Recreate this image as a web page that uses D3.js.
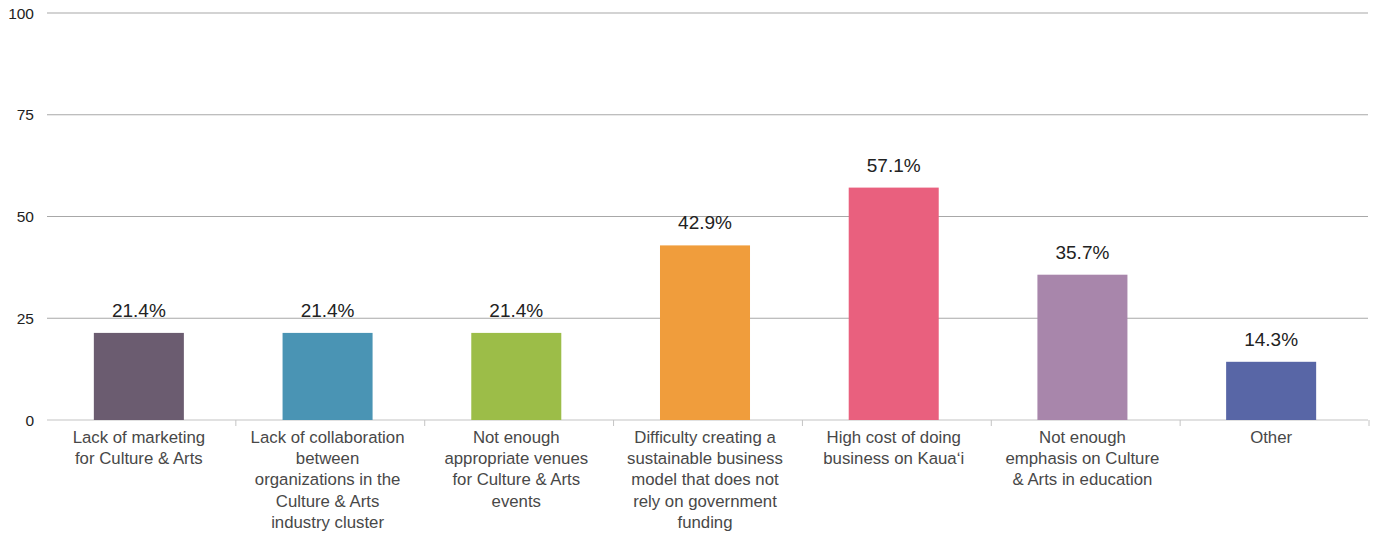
<!DOCTYPE html>
<html><head><meta charset="utf-8">
<script src="https://cdn.jsdelivr.net/npm/d3@7"></script>
<style>body{margin:0;background:#fff}svg{display:block}text{font-family:"Liberation Sans",Arial,sans-serif}</style>
</head><body><svg id="c" width="1377" height="535"></svg>
<script>
const categories = [
  ["Lack of marketing","for Culture & Arts"],
  ["Lack of collaboration","between","organizations in the","Culture & Arts","industry cluster"],
  ["Not enough","appropriate venues","for Culture & Arts","events"],
  ["Difficulty creating a","sustainable business","model that does not","rely on government","funding"],
  ["High cost of doing","business on Kauaʻi"],
  ["Not enough","emphasis on Culture","& Arts in education"],
  ["Other"]
];
const values = [21.4, 21.4, 21.4, 42.9, 57.1, 35.7, 14.3];
const valueLabels = ["21.4%","21.4%","21.4%","42.9%","57.1%","35.7%","14.3%"];
const colors = ["#6b5c70","#4a94b4","#9cbd48","#f09d3c","#e9607e","#a886ab","#5866a6"];
const yTicks = [0,25,50,75,100];

const svg = d3.select("#c");
const x = d3.scaleBand().domain(d3.range(categories.length)).range([44.5,1365.5]).paddingInner(0.523).paddingOuter(0.2615);
const xt = d3.scaleBand().domain(d3.range(categories.length)).range([47,1369]);
const y = d3.scaleLinear().domain([0,100]).range([420,13]);

// gridlines
svg.append("g").selectAll("line").data(yTicks).join("line")
  .attr("x1",47).attr("x2",1368).attr("y1",d=>y(d)).attr("y2",d=>y(d))
  .attr("stroke",d=>d===0?"#c4c4c4":"#a8a8a8").attr("stroke-width",1.2);
// y tick labels
svg.append("g").selectAll("text").data(yTicks).join("text")
  .attr("x",34).attr("y",d=>y(d)+5.5).attr("text-anchor","end")
  .attr("font-size",15.5).attr("fill","#222").text(d=>d);
// x ticks
svg.append("g").selectAll("line").data(d3.range(1,categories.length+1)).join("line")
  .attr("x1",i=>xt(i-1)+xt.bandwidth()).attr("x2",i=>xt(i-1)+xt.bandwidth())
  .attr("y1",420).attr("y2",426).attr("stroke","#c4c4c4");
// bars
svg.append("g").selectAll("rect").data(values).join("rect")
  .attr("x",(d,i)=>x(i)).attr("width",x.bandwidth())
  .attr("y",d=>y(d)).attr("height",d=>y(0)-y(d)).attr("fill",(d,i)=>colors[i]);
// value labels
svg.append("g").selectAll("text").data(values).join("text")
  .attr("x",(d,i)=>x(i)+x.bandwidth()/2).attr("y",d=>y(d)-16)
  .attr("text-anchor","middle").attr("font-size",19).attr("fill","#222")
  .text((d,i)=>valueLabels[i]);
// category labels
const cl = svg.append("g").selectAll("text").data(categories).join("text")
  .attr("x",(d,i)=>x(i)+x.bandwidth()/2).attr("y",443)
  .attr("text-anchor","middle").attr("font-size",16.8).attr("fill","#484848");
cl.selectAll("tspan").data(d=>d).join("tspan")
  .attr("x",function(){return this.parentNode.getAttribute("x");})
  .attr("dy",(d,j)=>j===0?0:21.2).text(d=>d);
</script></body></html>
